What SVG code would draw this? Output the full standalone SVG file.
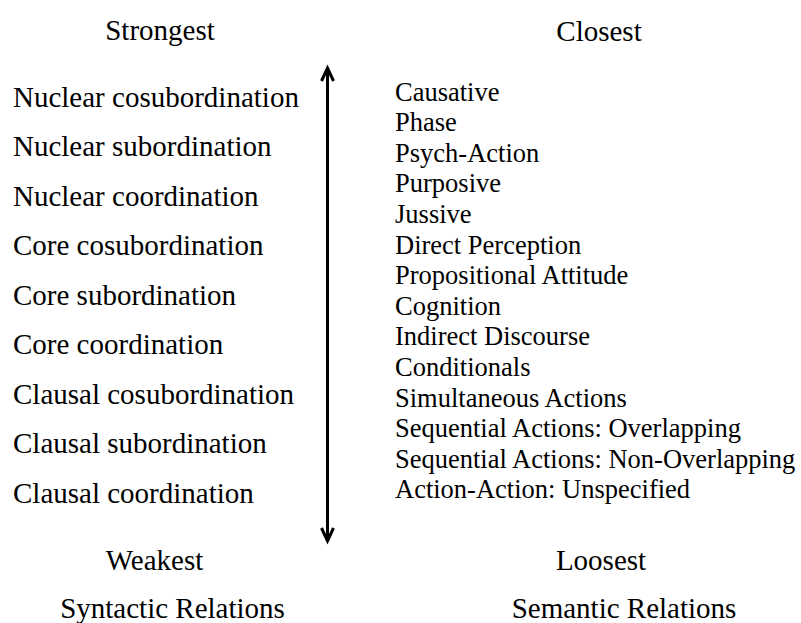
<svg xmlns="http://www.w3.org/2000/svg" width="801" height="623" viewBox="0 0 801 623">
  <style>
    text { font-family: "Liberation Serif", "Times New Roman", serif; fill: #000; }
    .syn { font-size: 29px; }
    .sem { font-size: 26.5px; }
    .head { font-size: 29px; text-anchor: middle; }
    .axis { stroke: #000; stroke-width: 3; fill: none; }
  </style>

  <!-- column headings -->
  <g id="heading-strongest"><text class="head" x="160" y="40">Strongest</text></g>
  <g id="heading-closest"><text class="head" x="599" y="41">Closest</text></g>

  <!-- syntactic relations, strongest to weakest -->
  <g id="syntactic-list">
    <text class="syn" x="13" y="106.5">Nuclear cosubordination</text>
    <text class="syn" x="13" y="156">Nuclear subordination</text>
    <text class="syn" x="13" y="205.5">Nuclear coordination</text>
    <text class="syn" x="13" y="255">Core cosubordination</text>
    <text class="syn" x="13" y="304.5">Core subordination</text>
    <text class="syn" x="13" y="354">Core coordination</text>
    <text class="syn" x="13" y="403.5">Clausal cosubordination</text>
    <text class="syn" x="13" y="453">Clausal subordination</text>
    <text class="syn" x="13" y="502.5">Clausal coordination</text>
  </g>

  <!-- semantic relations, closest to loosest -->
  <g id="semantic-list">
    <text class="sem" x="395" y="100.5">Causative</text>
    <text class="sem" x="395" y="131.1">Phase</text>
    <text class="sem" x="395" y="161.7">Psych-Action</text>
    <text class="sem" x="395" y="192.3">Purposive</text>
    <text class="sem" x="395" y="222.9">Jussive</text>
    <text class="sem" x="395" y="253.5">Direct Perception</text>
    <text class="sem" x="395" y="284.1">Propositional Attitude</text>
    <text class="sem" x="395" y="314.7">Cognition</text>
    <text class="sem" x="395" y="345.3">Indirect Discourse</text>
    <text class="sem" x="395" y="375.9">Conditionals</text>
    <text class="sem" x="395" y="406.5">Simultaneous Actions</text>
    <text class="sem" x="395" y="437.1">Sequential Actions: Overlapping</text>
    <text class="sem" x="395" y="467.7">Sequential Actions: Non-Overlapping</text>
    <text class="sem" x="395" y="498.3">Action-Action: Unspecified</text>
  </g>

  <!-- double-headed scale arrow -->
  <g id="connectors">
    <line class="axis" x1="327.5" y1="68" x2="327.5" y2="541"/>
    <polyline class="axis" points="321.5,81 327.5,68 333.5,81"/>
    <polyline class="axis" points="321.5,528 327.5,541 333.5,528"/>
  </g>

  <!-- bottom labels -->
  <g id="heading-weakest"><text class="head" x="154.5" y="570">Weakest</text></g>
  <g id="heading-loosest"><text class="head" x="601" y="570">Loosest</text></g>
  <g id="caption-syntactic"><text class="head" x="172.5" y="618">Syntactic Relations</text></g>
  <g id="caption-semantic"><text class="head" x="624" y="618">Semantic Relations</text></g>
</svg>
